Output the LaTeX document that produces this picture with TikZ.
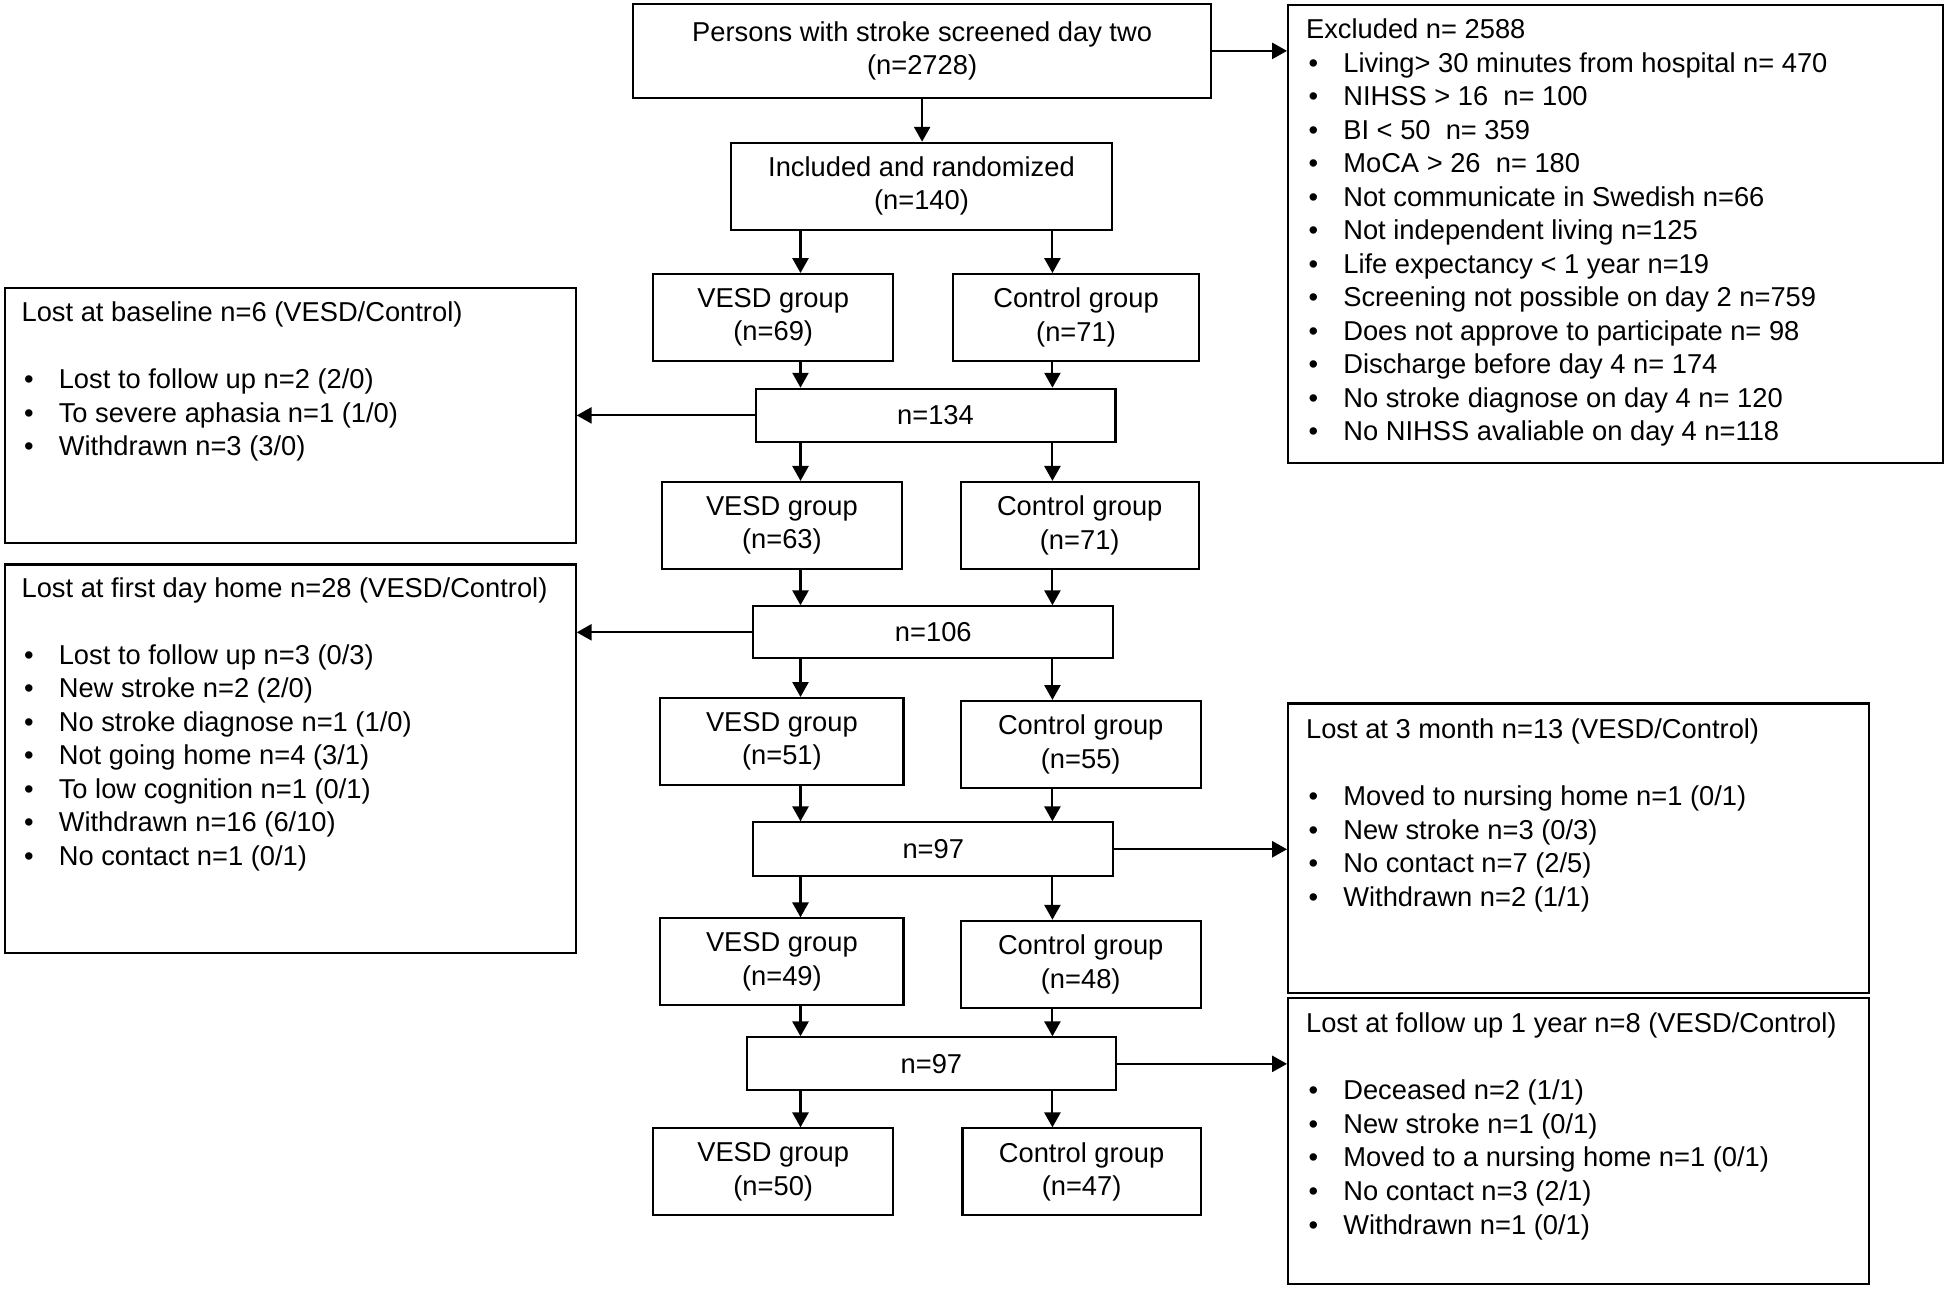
\documentclass[tikz,border=0pt]{standalone}
\usepackage{fontspec}
\setmainfont{Liberation Sans}
\usetikzlibrary{arrows.meta}
\newcommand\fsz{\fontsize{11}{13.5}\selectfont}
\newcommand\bl{\makebox[15pt][l]{\hspace{1pt}•}}
\tikzset{
  box/.style={draw, line width=0.85pt, inner sep=0pt, align=center, font=\fsz},
  arr/.style={line width=0.85pt, -{Triangle[length=6pt,width=6.5pt]}},
  txt/.style={anchor=north west, inner sep=0pt, align=left, font=\fsz},
}
\begin{document}
\begin{tikzpicture}[x=0.5pt,y=-0.5pt]
\useasboundingbox (0,0) rectangle (1568,1039);
\coordinate (L) at (645,0);
\coordinate (R) at (848,0);

% central column
\node[box, minimum width=233pt, minimum height=38pt] (top) at (743,41) {Persons with stroke screened day two\\(n=2728)};
\node[box, minimum width=153.5pt, minimum height=35pt] (incl) at (742.5,150) {Included and randomized\\(n=140)};
\node[box, minimum width=96.5pt, minimum height=35pt] (v69) at (623,255.8) {VESD group\\(n=69)};
\node[box, minimum width=99pt, minimum height=35pt] (c71) at (867,255.8) {Control group\\(n=71)};
\node[box, minimum width=145pt, minimum height=21.5pt] (n134) at (753.8,334.7) {n=134};
\node[box, minimum width=96.5pt, minimum height=35pt] (v63) at (630,423.3) {VESD group\\(n=63)};
\node[box, minimum width=96pt, minimum height=35pt] (c71b) at (870,423.3) {Control group\\(n=71)};
\node[box, minimum width=145pt, minimum height=21pt] (n106) at (752,509.5) {n=106};
\node[box, minimum width=98pt, minimum height=35pt] (v51) at (630,597.4) {VESD group\\(n=51)};
\node[box, minimum width=96.8pt, minimum height=35pt] (c55) at (870.8,599.8) {Control group\\(n=55)};
\node[box, minimum width=145pt, minimum height=21.7pt] (n97) at (752,684.3) {n=97};
\node[box, minimum width=98pt, minimum height=35pt] (v49) at (630,775) {VESD group\\(n=49)};
\node[box, minimum width=96.8pt, minimum height=35pt] (c48) at (870.8,776.9) {Control group\\(n=48)};
\node[box, minimum width=148.5pt, minimum height=21.4pt] (n97b) at (750.5,857.2) {n=97};
\node[box, minimum width=96.5pt, minimum height=35pt] (v50) at (623,944.2) {VESD group\\(n=50)};
\node[box, minimum width=96pt, minimum height=35pt] (c47) at (871.5,944.2) {Control group\\(n=47)};

% side boxes
\node[box, anchor=north west, minimum width=264pt, minimum height=184.5pt] (excl) at (1037,3) {};
\node[txt] (excltxt) at (1052,12) {\strut Excluded n= 2588\\
\bl Living> 30 minutes from hospital n= 470\\
\bl NIHSS > 16 \ n= 100\\
\bl BI < 50 \ n= 359\\
\bl MoCA > 26 \ n= 180\\
\bl Not communicate in Swedish n=66\\
\bl Not independent living n=125\\
\bl Life expectancy < 1 year n=19\\
\bl Screening not possible on day 2 n=759\\
\bl Does not approve to participate n= 98\\
\bl Discharge before day 4 n= 174\\
\bl No stroke diagnose on day 4 n= 120\\
\bl No NIHSS avaliable on day 4 n=118};

\node[box, anchor=north west, minimum width=230pt, minimum height=103pt] (lostbase) at (3,231) {};
\node[txt] (lostbasetxt) at (17,240) {\strut Lost at baseline n=6 (VESD/Control)\\[13.5pt]
\bl Lost to follow up n=2 (2/0)\\
\bl To severe aphasia n=1 (1/0)\\
\bl Withdrawn n=3 (3/0)};

\node[box, anchor=north west, minimum width=230pt, minimum height=156.5pt] (lostfirst) at (3,454) {};
\node[txt] (lostfirsttxt) at (17,462) {\strut Lost at first day home n=28 (VESD/Control)\\[13.5pt]
\bl Lost to follow up n=3 (0/3)\\
\bl New stroke n=2 (2/0)\\
\bl No stroke diagnose n=1 (1/0)\\
\bl Not going home n=4 (3/1)\\
\bl To low cognition n=1 (0/1)\\
\bl Withdrawn n=16 (6/10)\\
\bl No contact n=1 (0/1)};

\node[box, anchor=north west, minimum width=234pt, minimum height=116.5pt] (lost3) at (1037,566) {};
\node[txt] (lost3txt) at (1052,576) {\strut Lost at 3 month n=13 (VESD/Control)\\[13.5pt]
\bl Moved to nursing home n=1 (0/1)\\
\bl New stroke n=3 (0/3)\\
\bl No contact n=7 (2/5)\\
\bl Withdrawn n=2 (1/1)};

\node[box, anchor=north west, minimum width=234pt, minimum height=115.5pt] (lostfu) at (1037,803) {};
\node[txt] (lostfutxt) at (1052,813) {\strut Lost at follow up 1 year n=8 (VESD/Control)\\[13.5pt]
\bl Deceased n=2 (1/1)\\
\bl New stroke n=1 (0/1)\\
\bl Moved to a nursing home n=1 (0/1)\\
\bl No contact n=3 (2/1)\\
\bl Withdrawn n=1 (0/1)};

% arrows
\draw[arr] (top.east) -- (excl.west |- top.east);
\draw[arr] (top.south) -- (top.south |- incl.north);
\draw[arr] (incl.south -| L) -- (v69.north -| L);
\draw[arr] (incl.south -| R) -- (c71.north -| R);
\draw[arr] (v69.south -| L) -- (n134.north -| L);
\draw[arr] (c71.south -| R) -- (n134.north -| R);
\draw[arr] (n134.west) -- (lostbase.east |- n134.west);
\draw[arr] (n134.south -| L) -- (v63.north -| L);
\draw[arr] (n134.south -| R) -- (c71b.north -| R);
\draw[arr] (v63.south -| L) -- (n106.north -| L);
\draw[arr] (c71b.south -| R) -- (n106.north -| R);
\draw[arr] (n106.west) -- (lostfirst.east |- n106.west);
\draw[arr] (n106.south -| L) -- (v51.north -| L);
\draw[arr] (n106.south -| R) -- (c55.north -| R);
\draw[arr] (v51.south -| L) -- (n97.north -| L);
\draw[arr] (c55.south -| R) -- (n97.north -| R);
\draw[arr] (n97.east) -- (lost3.west |- n97.east);
\draw[arr] (n97.south -| L) -- (v49.north -| L);
\draw[arr] (n97.south -| R) -- (c48.north -| R);
\draw[arr] (v49.south -| L) -- (n97b.north -| L);
\draw[arr] (c48.south -| R) -- (n97b.north -| R);
\draw[arr] (n97b.east) -- (lostfu.west |- n97b.east);
\draw[arr] (n97b.south -| L) -- (v50.north -| L);
\draw[arr] (n97b.south -| R) -- (c47.north -| R);
\end{tikzpicture}
\end{document}
